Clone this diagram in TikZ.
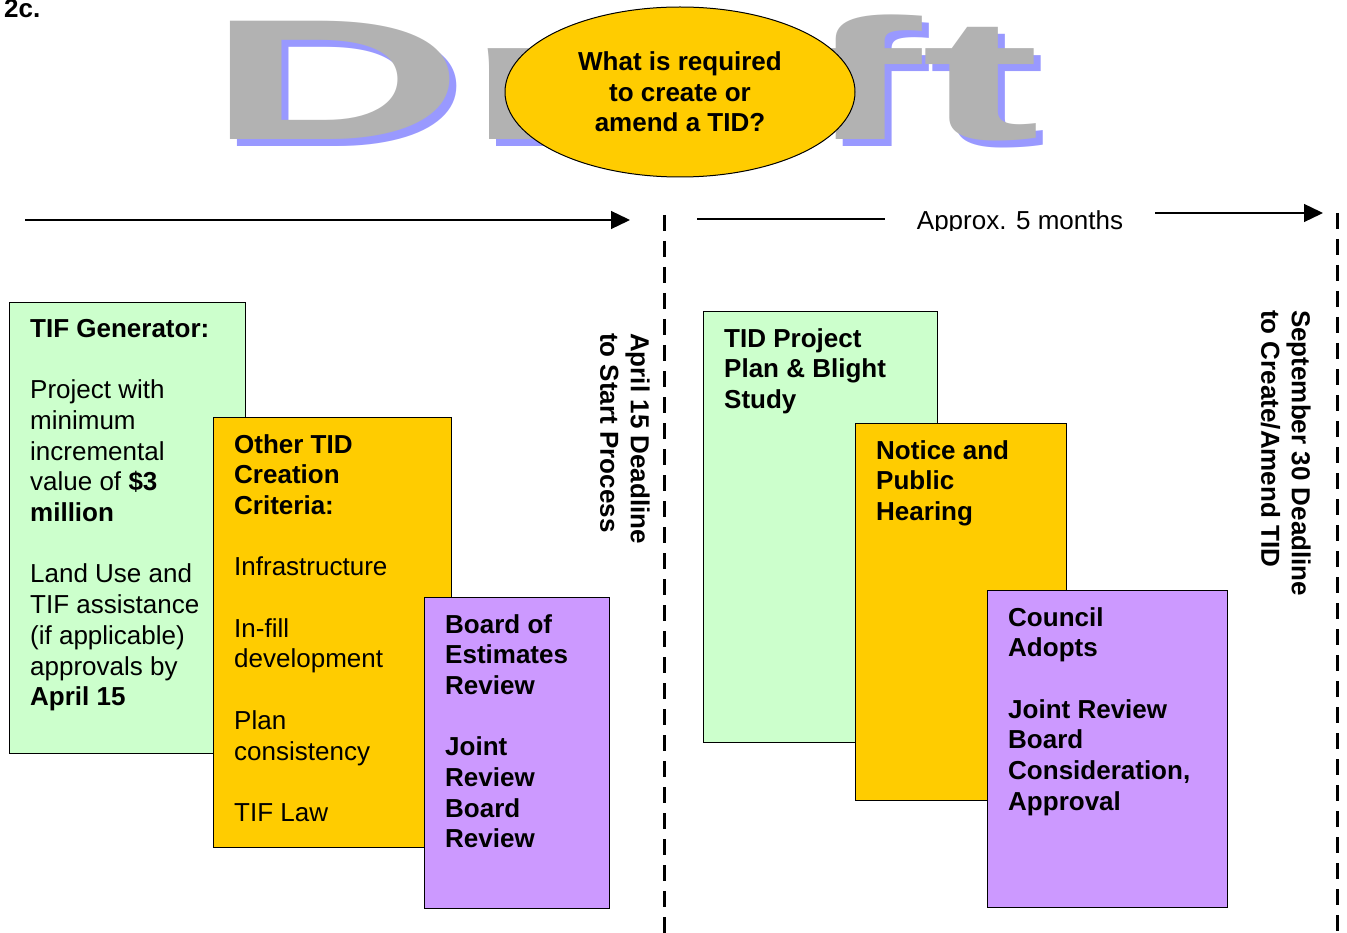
\documentclass[tikz,border=0pt]{standalone}
\usepackage{graphicx}
\usepackage{fontspec}
\setmainfont{Liberation Sans}
\usetikzlibrary{shapes,arrows.meta,positioning}

\definecolor{tifgreen}{HTML}{CCFFCC}
\definecolor{tidorange}{HTML}{FFCC00}
\definecolor{tidpurple}{HTML}{CC99FF}
\definecolor{draftgray}{HTML}{B2B2B2}
\definecolor{draftblue}{HTML}{9999FF}

\begin{document}
\begin{tikzpicture}[x=1pt,y=-1pt,
  every node/.style={font=\fontsize{26}{30.7}\selectfont},
  bold/.style={font=\fontsize{26}{30.7}\selectfont\bfseries},
  box/.style={draw,line width=1pt,anchor=north west,inner sep=0pt},
  txt/.style={anchor=north west,align=left,inner sep=0pt},
  wm/.style={anchor=base west,inner sep=0pt,font=\fontsize{172}{172}\selectfont\bfseries},
  deadline/.style={line width=3pt,dash pattern=on 16pt off 10pt},
  timeline/.style={line width=1.3pt,-{Triangle[length=19pt,width=18pt]}}]
  \useasboundingbox (0,0) rectangle (1347,933);
  \node[wm,text=draftblue] (draftshadow) at (213,147) {\scalebox{2.08}[1]{Draft}};
  \node[wm,text=draftgray] (draft) at (206,140) {\scalebox{2.08}[1]{Draft}};
  \node[bold,anchor=base west,inner sep=0pt] (lbl) at (4,18) {2c.};
  \node[ellipse,draw,line width=1pt,fill=tidorange,minimum width=350pt,minimum height=170pt,align=center,bold] (q) at (680,92) {What is required\\ to create or\\ amend a TID?};

  \coordinate (l0) at (25,220);
  \coordinate (l1) at (630,220);
  \coordinate (r0) at (697,219);
  \coordinate (r1) at (885,219);
  \coordinate (r2) at (1155,213);
  \coordinate (r3) at (1323,213);
  \draw[timeline] (l0) -- (l1);
  \draw[line width=1.3pt] (r0) -- (r1);
  \draw[timeline] (r2) -- (r3);
  \begin{scope}
    \clip (890,190) rectangle (1150,231);
    \node[anchor=base,inner sep=0pt] (approx) at (1020,230) {Approx. 5 months};
  \end{scope}

  \coordinate (apr0) at (664,215);
  \coordinate (apr1) at (664,933);
  \coordinate (sep0) at (1337,213);
  \coordinate (sep1) at (1337,933);
  \draw[deadline] (apr0) -- (apr1);
  \draw[deadline] (sep0) -- (sep1);
  \node[txt,bold,rotate=-90] (aprtxt) at (650,333) {April 15 Deadline\\ to Start Process};
  \node[txt,bold,rotate=-90] (septxt) at (1311,310) {September 30 Deadline\\ to Create/Amend TID};

  \node[box,fill=tifgreen,minimum width=236pt,minimum height=451pt] (gen) at (9,302) {};
  \node[txt,below right=17pt and 21pt of gen.north west] (gentxt) {\textbf{TIF Generator:}\\[30.7pt] Project with\\ minimum\\ incremental\\ value of \textbf{\$3}\\ \textbf{million}\\[30.7pt] Land Use and\\ TIF assistance\\ (if applicable)\\ approvals by\\ \textbf{April 15}};
  \node[box,fill=tidorange,minimum width=238pt,minimum height=430pt] (crit) at (213,417) {};
  \node[txt,below right=17pt and 21pt of crit.north west] (crittxt) {\textbf{Other TID}\\ \textbf{Creation}\\ \textbf{Criteria:}\\[30.7pt] Infrastructure\\[30.7pt] In-fill\\ development\\[30.7pt] Plan\\ consistency\\[30.7pt] TIF Law};
  \node[box,fill=tidpurple,minimum width=185pt,minimum height=311pt] (boe) at (424,597) {};
  \node[txt,bold,below right=17pt and 21pt of boe.north west] (boetxt) {Board of\\ Estimates\\ Review\\[30.7pt] Joint\\ Review\\ Board\\ Review};

  \node[box,fill=tifgreen,minimum width=234pt,minimum height=431pt] (plan) at (703,311) {};
  \node[txt,bold,below right=17pt and 21pt of plan.north west] (plantxt) {TID Project\\ Plan \& Blight\\ Study};
  \node[box,fill=tidorange,minimum width=211pt,minimum height=377pt] (hear) at (855,423) {};
  \node[txt,bold,below right=17pt and 21pt of hear.north west] (heartxt) {Notice and\\ Public\\ Hearing};
  \node[box,fill=tidpurple,minimum width=240pt,minimum height=317pt] (adopt) at (987,590) {};
  \node[txt,bold,below right=17pt and 21pt of adopt.north west] (adopttxt) {Council\\ Adopts\\[30.7pt] Joint Review\\ Board\\ Consideration,\\ Approval};
\end{tikzpicture}
\end{document}
